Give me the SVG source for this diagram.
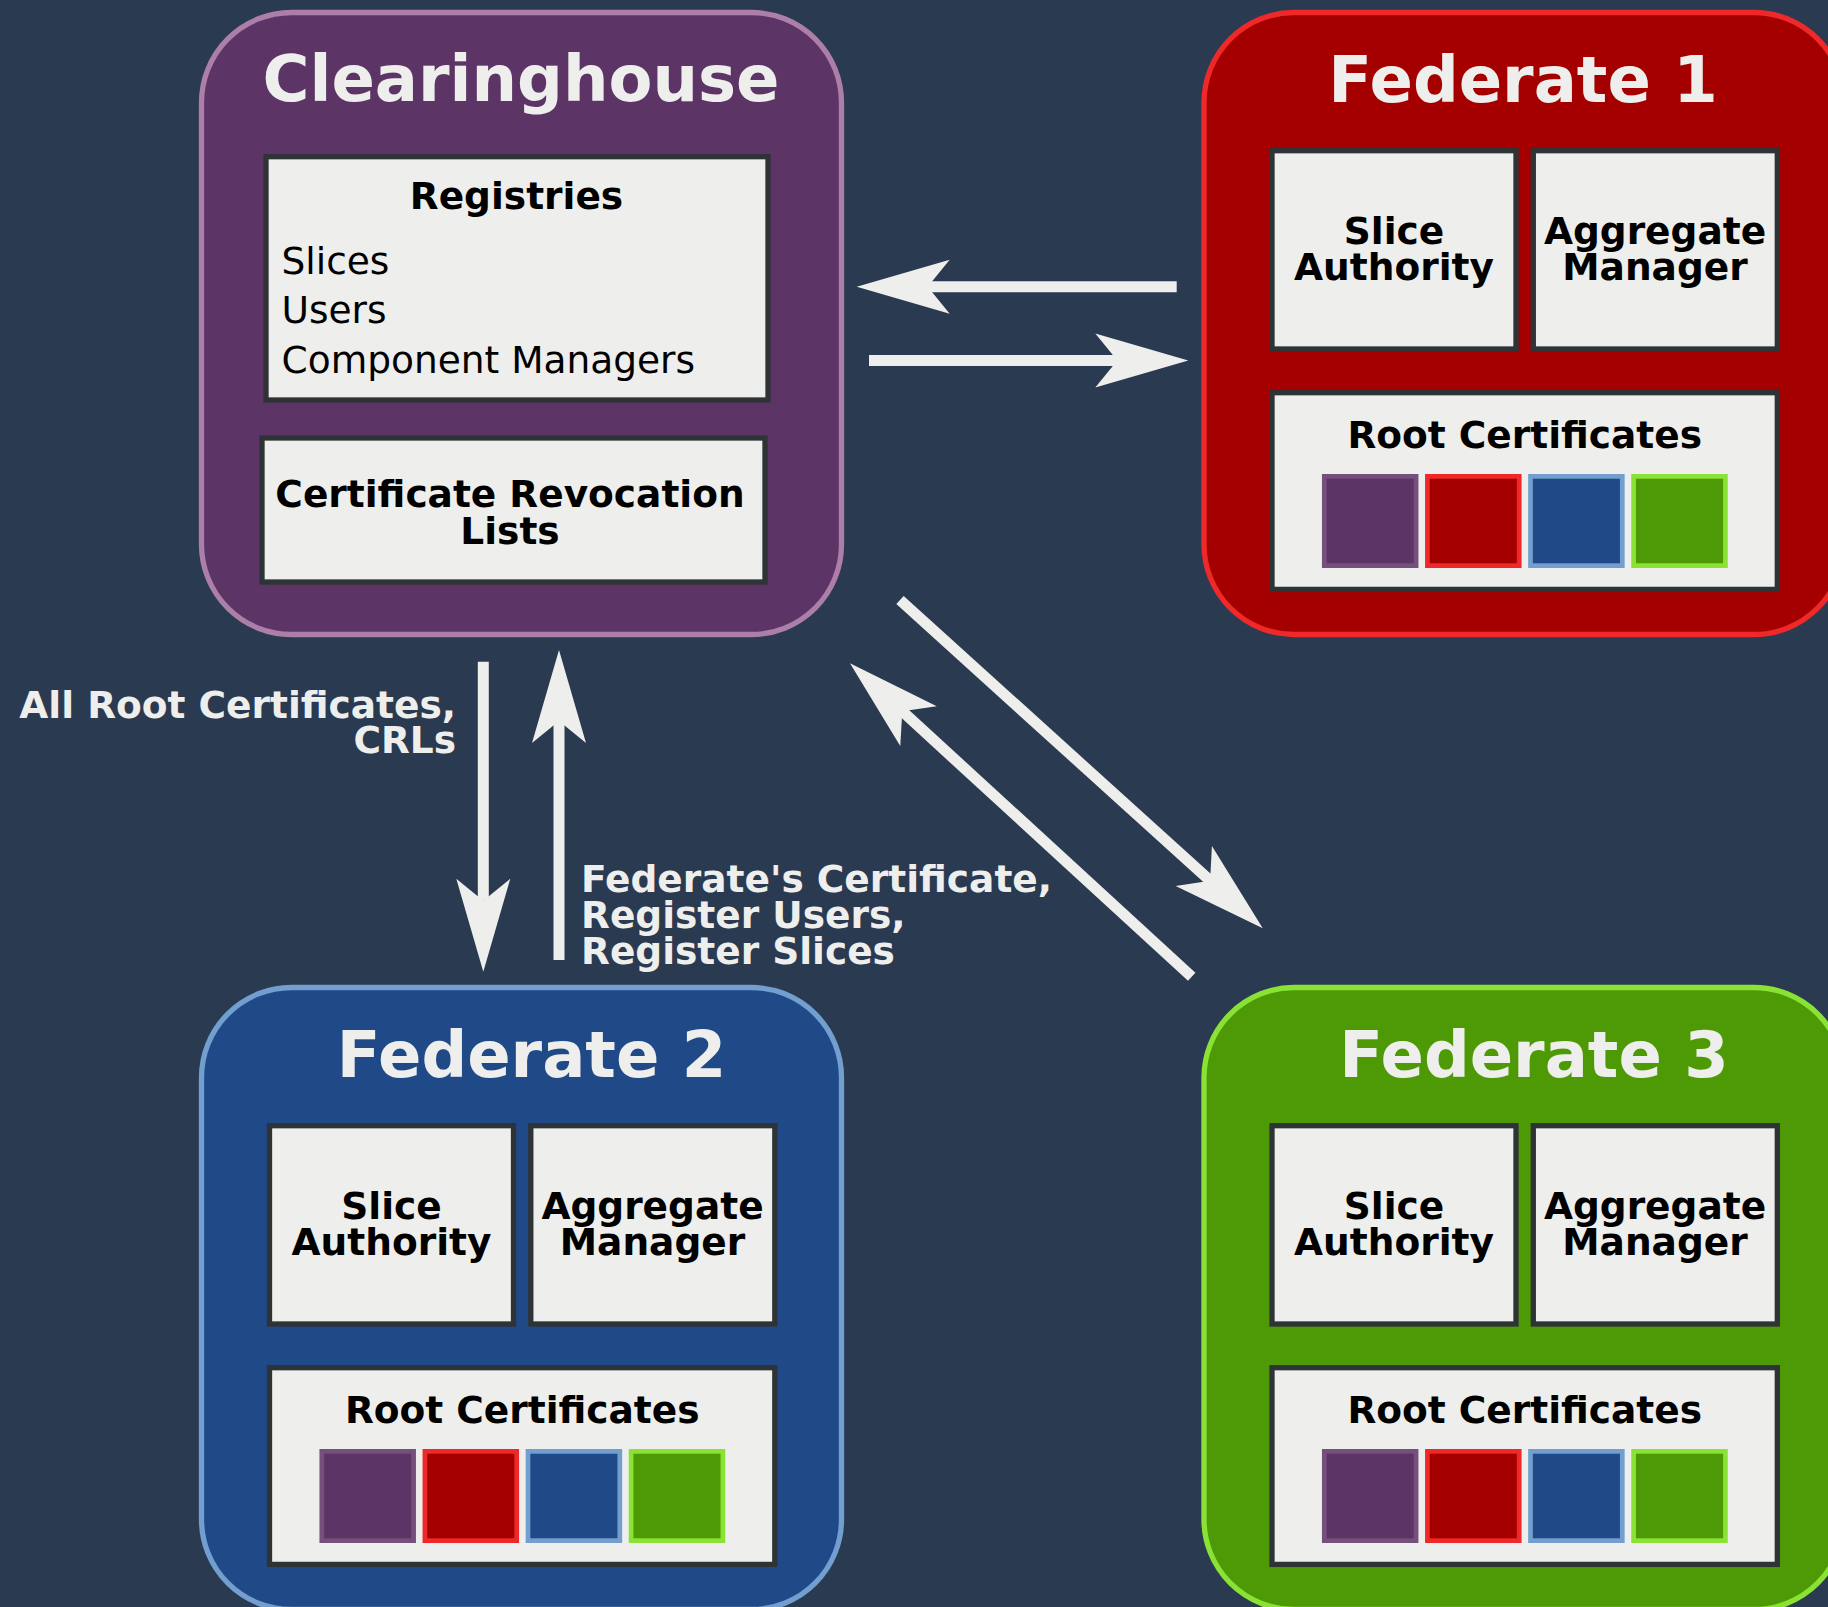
<svg xmlns="http://www.w3.org/2000/svg" width="1828" height="1607" viewBox="0 0 1828 1607">
<defs>
<style>
.bg{fill:#2a3a50}
.outer{stroke-width:5.3}
.inner{fill:#eeeeec;stroke:#2e3436;stroke-width:5.3}
.title{font-family:"DejaVu Sans","Liberation Sans",sans-serif;font-weight:bold;font-size:64px;fill:#eeeeec;text-anchor:middle}
.lbl{font-family:"DejaVu Sans","Liberation Sans",sans-serif;font-weight:bold;font-size:37.5px;fill:#000;text-anchor:middle}
.item{font-family:"DejaVu Sans","Liberation Sans",sans-serif;font-size:37.5px;fill:#000}
.elbl{font-family:"DejaVu Sans","Liberation Sans",sans-serif;font-weight:bold;font-size:37.5px;fill:#eeeeec}
.sq{stroke-width:4.7}
.sq1{fill:#5c3566;stroke:#75507b}
.sq2{fill:#a40000;stroke:#ef2929}
.sq3{fill:#204a87;stroke:#729fcf}
.sq4{fill:#4e9a06;stroke:#8ae234}
.conn{stroke:#eeeeec;stroke-width:11;fill:none;marker-end:url(#head)}
</style>
<marker id="head" markerUnits="userSpaceOnUse" viewBox="-24 -29 97 58" refX="0" refY="0" markerWidth="97" markerHeight="58" orient="auto">
<path d="M71,0 L-22,-27 L0,0 L-22,27 Z" fill="#eeeeec"/>
</marker>
<g id="certs">
<rect class="sq sq1" x="120.3" y="463.85" width="91.8" height="89.3"/>
<rect class="sq sq2" x="223.4" y="463.85" width="91.8" height="89.3"/>
<rect class="sq sq3" x="326.5" y="463.85" width="91.8" height="89.3"/>
<rect class="sq sq4" x="429.6" y="463.85" width="91.8" height="89.3"/>
</g>
</defs>
<rect class="bg" x="0" y="0" width="1828" height="1607"/>

<g id="clearinghouse" transform="translate(201.5,12.5)">
<rect class="outer" x="0" y="0" width="640" height="622" rx="90" fill="#5c3566" stroke="#ad7fa8"/>
<text class="title" x="319.5" y="88">Clearinghouse</text>
<g id="registries">
<rect class="inner" x="64.5" y="144.2" width="502" height="243.3"/>
<text class="lbl" x="315" y="196.8">Registries</text>
<text class="item" x="80" y="261.5">Slices</text>
<text class="item" x="80" y="310.2">Users</text>
<text class="item" x="80" y="360.2">Component Managers</text>
</g>
<g id="crl">
<rect class="inner" x="60.5" y="425.5" width="503" height="144"/>
<text class="lbl" x="308.5" y="494.8">Certificate Revocation</text>
<text class="lbl" x="308.5" y="531.5">Lists</text>
</g>
</g>

<g id="federate1" transform="translate(1204,12.5)">
<rect class="outer" x="0" y="0" width="640" height="622" rx="90" fill="#a40000" stroke="#ef2929"/>
<text class="title" x="319" y="89">Federate 1</text>
<rect class="inner" x="68" y="138.2" width="244" height="198.3"/>
<text class="lbl" x="190" y="231.5">Slice</text>
<text class="lbl" x="190" y="267.5">Authority</text>
<rect class="inner" x="329.3" y="138.2" width="244" height="198.3"/>
<text class="lbl" x="451" y="231.5">Aggregate</text>
<text class="lbl" x="451" y="267.5">Manager</text>
<rect class="inner" x="68" y="380.2" width="505.3" height="196.7"/>
<text class="lbl" x="320.7" y="435.5">Root Certificates</text>
<use href="#certs"/>
</g>

<g id="federate2" transform="translate(201.5,987.5)">
<rect class="outer" x="0" y="0" width="640" height="622" rx="90" fill="#204a87" stroke="#729fcf"/>
<text class="title" x="330" y="89">Federate 2</text>
<rect class="inner" x="68" y="138.2" width="244" height="198.3"/>
<text class="lbl" x="190" y="231.5">Slice</text>
<text class="lbl" x="190" y="267.5">Authority</text>
<rect class="inner" x="329.3" y="138.2" width="244" height="198.3"/>
<text class="lbl" x="451" y="231.5">Aggregate</text>
<text class="lbl" x="451" y="267.5">Manager</text>
<rect class="inner" x="68" y="380.2" width="505.3" height="196.7"/>
<text class="lbl" x="320.7" y="435.5">Root Certificates</text>
<use href="#certs"/>
</g>

<g id="federate3" transform="translate(1204,987.5)">
<rect class="outer" x="0" y="0" width="640" height="622" rx="90" fill="#4e9a06" stroke="#8ae234"/>
<text class="title" x="330" y="89">Federate 3</text>
<rect class="inner" x="68" y="138.2" width="244" height="198.3"/>
<text class="lbl" x="190" y="231.5">Slice</text>
<text class="lbl" x="190" y="267.5">Authority</text>
<rect class="inner" x="329.3" y="138.2" width="244" height="198.3"/>
<text class="lbl" x="451" y="231.5">Aggregate</text>
<text class="lbl" x="451" y="267.5">Manager</text>
<rect class="inner" x="68" y="380.2" width="505.3" height="196.7"/>
<text class="lbl" x="320.7" y="435.5">Root Certificates</text>
<use href="#certs"/>
</g>

<g id="connectors">
<line class="conn" x1="1176.7" y1="286.7" x2="927.7" y2="286.7"/>
<line class="conn" x1="869" y1="360.5" x2="1117.3" y2="360.5"/>
<line class="conn" x1="483.3" y1="661.7" x2="483.3" y2="900.7"/>
<line class="conn" x1="559" y1="960" x2="559" y2="721"/>
<line class="conn" x1="900" y1="600" x2="1210.1" y2="880.7"/>
<line class="conn" x1="1191.7" y1="976.7" x2="902.3" y2="711.3"/>
<text class="elbl" text-anchor="end" x="456" y="718.3">All Root Certificates,</text>
<text class="elbl" text-anchor="end" x="456" y="753.3">CRLs</text>
<text class="elbl" x="581" y="891.7">Federate's Certificate,</text>
<text class="elbl" x="581" y="928.3">Register Users,</text>
<text class="elbl" x="581" y="964.3">Register Slices</text>
</g>
</svg>
